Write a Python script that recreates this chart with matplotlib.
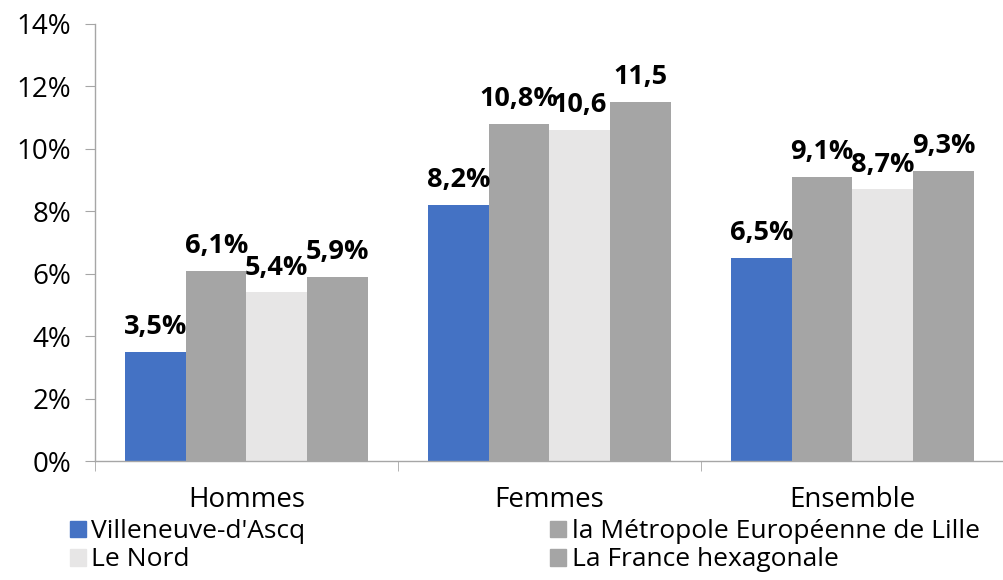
import numpy as np
import matplotlib
matplotlib.use("Agg")
import matplotlib.pyplot as plt
from matplotlib.patches import Patch

plt.rcParams['font.family'] = ['Open Sans', 'DejaVu Sans']

categories = ["Hommes", "Femmes", "Ensemble"]
series = ["Villeneuve-d'Ascq", "la Métropole Européenne de Lille", "Le Nord", "La France hexagonale"]
values = [
    [3.5, 8.2, 6.5],    # Villeneuve-d'Ascq
    [6.1, 10.8, 9.1],   # MEL
    [5.4, 10.6, 8.7],   # Le Nord
    [5.9, 11.5, 9.3],   # France
]
labels = [
    ["3,5%", "8,2%", "6,5%"],
    ["6,1%", "10,8%", "9,1%"],
    ["5,4%", "10,6", "8,7%"],
    ["5,9%", "11,5", "9,3%"],
]
colors = ["#4472C4", "#A5A5A5", "#E7E6E6", "#A5A5A5"]

fig = plt.figure(figsize=(10.04, 5.80), dpi=100)
ax = fig.add_axes([95/1004, (580-461)/580, (1004-95)/1004, (461-24)/580])

x = np.arange(len(categories))
w = 0.2
for i in range(4):
    pos = x + (i - 1.5) * w
    ax.bar(pos, values[i], width=w, color=colors[i], edgecolor='none')
    for p, v, t in zip(pos, values[i], labels[i]):
        ax.text(p, v + 0.38, t, ha='center', va='bottom', fontsize=19.5, fontweight='bold')

ax.set_xlim(-0.5, -0.5 + (1004-95)/305)
ax.set_ylim(0, 14)
ax.set_yticks(np.arange(0, 15, 2))
ax.set_yticklabels([f"{v}%" for v in range(0, 15, 2)], fontsize=20)
ax.set_xticks(x)
ax.set_xticklabels(categories, fontsize=20)
ax.set_xticks([-0.5, 0.5, 1.5, 2.5], minor=True)
ax.tick_params(axis='x', which='major', length=0, pad=18)
ax.tick_params(axis='x', which='minor', length=7, color='#A6A6A6', direction='out')
ax.tick_params(axis='y', length=7, color='#A6A6A6', direction='out', pad=10)

for s in ['top', 'right']:
    ax.spines[s].set_visible(False)
for s in ['left', 'bottom']:
    ax.spines[s].set_color('#A6A6A6')
    ax.spines[s].set_linewidth(1)

handles = [Patch(color=colors[0]), Patch(color=colors[2]), Patch(color=colors[1]), Patch(color=colors[3])]
names = [series[0], series[2], series[1], series[3]]
fig.legend(handles, names, ncol=2, loc='lower left', bbox_to_anchor=(46/1004, -0.028),
           frameon=False, fontsize=19, handlelength=0.6, handleheight=0.6,
           handletextpad=0.2, columnspacing=9.3, labelspacing=0.12)

fig.savefig("out.png", dpi=100)
